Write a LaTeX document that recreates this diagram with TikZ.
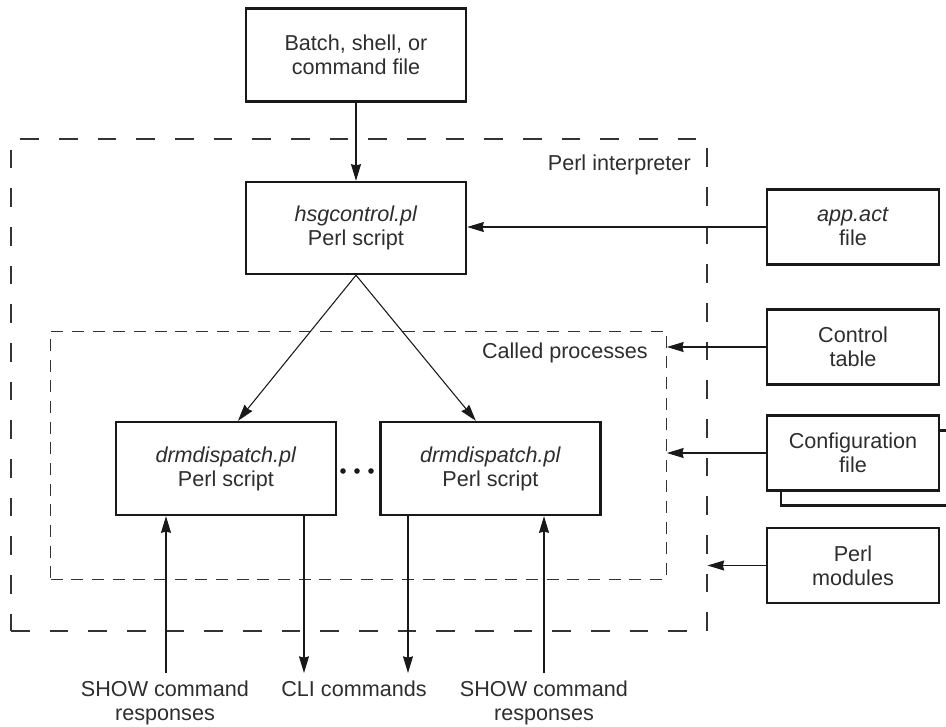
\documentclass[tikz,border=0pt]{standalone}
\usepackage{fontspec}
\setmainfont{Liberation Sans}
\usetikzlibrary{arrows.meta,calc}
\begin{document}
\begin{tikzpicture}[x=0.75pt,y=-0.75pt,
  txt/.style={font=\fontsize{16.2}{18}\selectfont, text=black!82},
  box/.style={txt, draw=black!90, line width=1.8pt, fill=white, align=center, inner sep=0pt},
  bigbox/.style={box, minimum width=165pt, minimum height=69.75pt},
  sidebox/.style={box, minimum width=129pt, minimum height=56pt},
  conn/.style={draw=black!90, line width=0.8pt},
  arr/.style={conn, -{Stealth[length=12.5pt,width=7.5pt,inset=1pt]}},
  outerframe/.style={draw=black!80, line width=0.8pt, dash pattern=on 14pt off 15pt, minimum width=522pt, minimum height=369pt, inner sep=0pt},
  innerframe/.style={draw=black!80, line width=0.7pt, dash pattern=on 9pt off 6.5pt, minimum width=462pt, minimum height=186pt, inner sep=0pt},
  lbl/.style={txt, align=center, inner sep=0pt},
  dotmark/.style={circle, fill=black!90, minimum size=4.2pt, inner sep=0pt}
]
\fill[white] (0,0) rectangle (946,726);
\useasboundingbox (0,0) rectangle (946,726);

% frames
\node[outerframe] (outer) at (359,385) {};
\node[innerframe] (inner) at (358.5,455) {};
\node[lbl, anchor=base east] (perlint) at (691,170) {Perl interpreter};
\node[lbl, anchor=east] (called) at (648,353) {Called processes};

% main boxes
\node[bigbox] (batch) at (356,55) {Batch, shell, or\\command file};
\node[bigbox, minimum height=69pt] (hsg) at (356,228) {\textit{hsgcontrol.pl}\\Perl script};
\node[bigbox] (ldrm) at (226,468.5) {\textit{drmdispatch.pl}\\Perl script};
\node[bigbox] (rdrm) at (490.5,468.5) {\textit{drmdispatch.pl}\\Perl script};

% dots
\node[dotmark] (d1) at (343,471) {};
\node[dotmark] (d2) at (357,471) {};
\node[dotmark] (d3) at (371,471) {};

% side boxes
\node[sidebox] (app) at (853,227) {\textit{app.act}\\file};
\node[sidebox] (ctrl) at (853,347) {Control\\table};
\node[sidebox] (cfgback) at (867,468) {};
\node[sidebox] (cfg) at (853,453) {Configuration\\file};
\node[sidebox] (mods) at (853,565.5) {Perl\\modules};

% bottom labels
\node[lbl, anchor=north] (show1) at (165,681) {SHOW command\\responses};
\node[lbl, anchor=north] (cli) at (354,681) {CLI commands};
\node[lbl, anchor=north] (show2) at (544,681) {SHOW command\\responses};

\coordinate (s1) at (166,673);
\coordinate (c1) at (304,673);
\coordinate (c2) at (408,673);
\coordinate (s2) at (544,673);

% connectors
\draw[arr] (batch.south) -- (hsg.north);
\draw[arr] (app.west) -- (app.west -| hsg.east);
\draw[arr] (hsg.south) -- ([xshift=9pt]ldrm.north);
\draw[arr] (hsg.south) -- ([xshift=-11pt]rdrm.north);
\draw[arr] (ctrl.west) -- (ctrl.west -| inner.east);
\draw[arr] (cfg.west) -- (cfg.west -| inner.east);
\draw[arr] (mods.west) -- (mods.west -| outer.east);
\draw[arr] (s1) -- (s1 |- ldrm.south);
\draw[arr] (c1 |- ldrm.south) -- (c1);
\draw[arr] (c2 |- rdrm.south) -- (c2);
\draw[arr] (s2) -- (s2 |- rdrm.south);
\end{tikzpicture}
\end{document}
